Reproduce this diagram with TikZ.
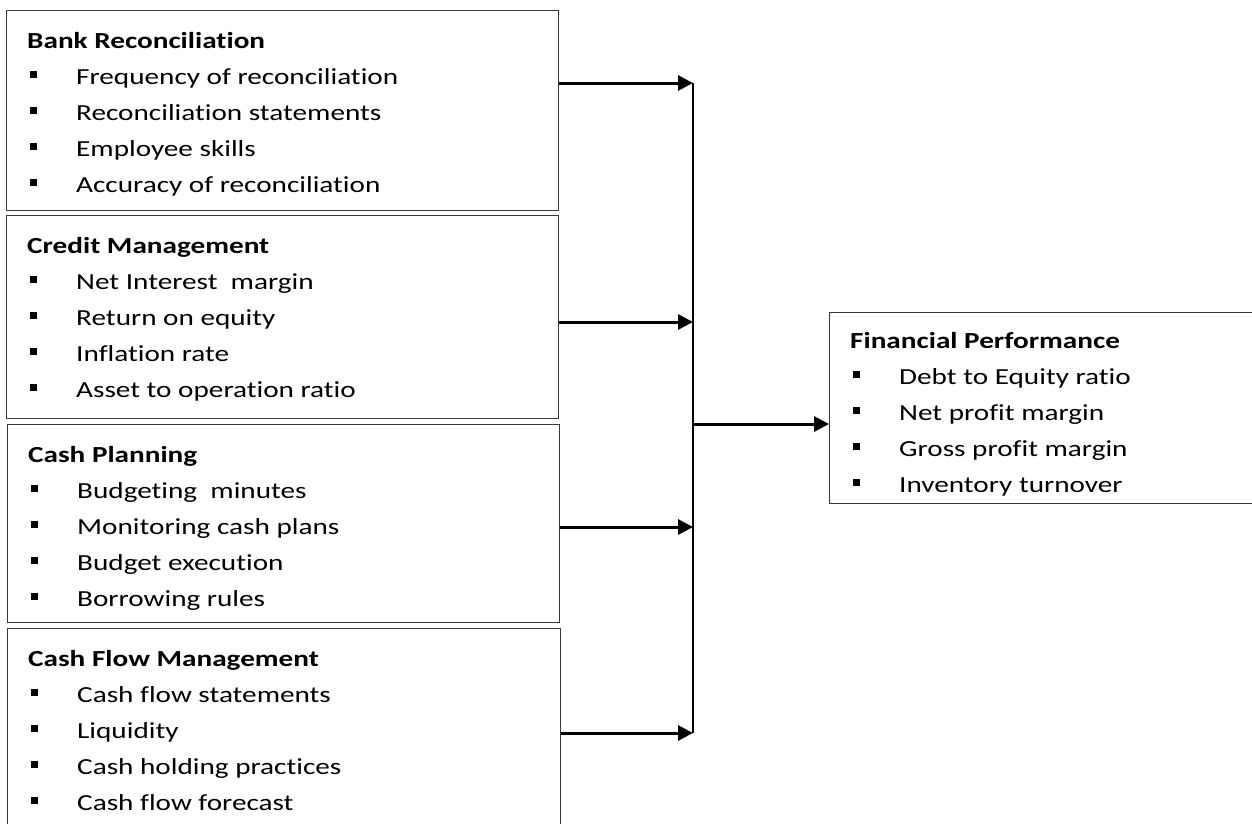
\documentclass[tikz,border=0pt]{standalone}
\usepackage{fontspec}
\setmainfont{Carlito}[FakeStretch=1.27, Ligatures=NoCommon]
\usepackage{tikz}
\usetikzlibrary{arrows.meta,positioning,calc}
\definecolor{boxGray}{HTML}{3A3A3A}
\tikzset{
  panel/.style={draw=boxGray, line width=1.4pt, minimum width=552pt, inner sep=0pt, anchor=north west},
  ptitle/.style={anchor=base west, inner sep=0pt, font=\fontsize{23}{36}\selectfont\bfseries},
  pitem/.style={anchor=base west, inner sep=0pt},
  feed/.style={line width=3pt, -{Triangle[length=15pt,width=15pt]}},
  bus/.style={line width=2pt}
}
\newcommand{\sqbul}{\makebox[46pt][l]{\rule[6pt]{7pt}{7.5pt}}}

\begin{document}
\begin{tikzpicture}[x=1pt, y=-1pt, font=\fontsize{23}{36}\selectfont]
\useasboundingbox (0,0) rectangle (1252,823);
\clip (0,0) rectangle (1252,823);
% left column
\node[panel, minimum height=200pt] (bank) at (6,10) {};
\node[ptitle] (bankT) at (27,48) {Bank Reconciliation};
\foreach \t [count=\i] in {Frequency of reconciliation, Reconciliation statements, Employee skills, Accuracy of reconciliation}
  \node[pitem] (bank\i) at (30,{48+36*\i}) {\sqbul\t};
\node[panel, minimum height=203pt] (credit) at (6,215) {};
\node[ptitle] (creditT) at (27,253) {Credit Management};
\foreach \t [count=\i] in {Net Interest\ \ margin, Return on equity, Inflation rate, Asset to operation ratio}
  \node[pitem] (credit\i) at (30,{253+36*\i}) {\sqbul\t};
\node[panel, minimum height=198pt] (plan) at (7,424) {};
\node[ptitle] (planT) at (28,462) {Cash Planning};
\foreach \t [count=\i] in {Budgeting\ \ minutes, Monitoring cash plans, Budget execution, Borrowing rules}
  \node[pitem] (plan\i) at (31,{462+36*\i}) {\sqbul\t};
\node[panel, minimum width=553pt, minimum height=222pt] (flow) at (7,628) {};
\node[ptitle] (flowT) at (28,666) {Cash Flow Management};
\foreach \t [count=\i] in {Cash flow statements, Liquidity, Cash holding practices, Cash flow forecast}
  \node[pitem] (flow\i) at (31,{666+36*\i}) {\sqbul\t};
% outcome
\node[panel, minimum width=441pt, minimum height=191pt] (perf) at (829,312) {};
\node[ptitle] (perfT) at (850,348) {Financial Performance};
\foreach \t [count=\i] in {Debt to Equity ratio, Net profit margin, Gross profit margin, Inventory turnover}
  \node[pitem] (perf\i) at (853,{348+36*\i}) {\sqbul\t};
% connectors
\coordinate (j1) at (693,83);
\coordinate (j2) at (693,322);
\coordinate (j3) at (693,527);
\coordinate (j4) at (693,733);
\coordinate (jm) at (693,424);
\draw[bus] (j1) -- (j4);
\draw[feed] (bank.east |- j1) -- (j1);
\draw[feed] (credit.east |- j2) -- (j2);
\draw[feed] (plan.east |- j3) -- (j3);
\draw[feed] (flow.east |- j4) -- (j4);
\draw[feed] (jm) -- (perf.west |- jm);
\end{tikzpicture}
\end{document}
